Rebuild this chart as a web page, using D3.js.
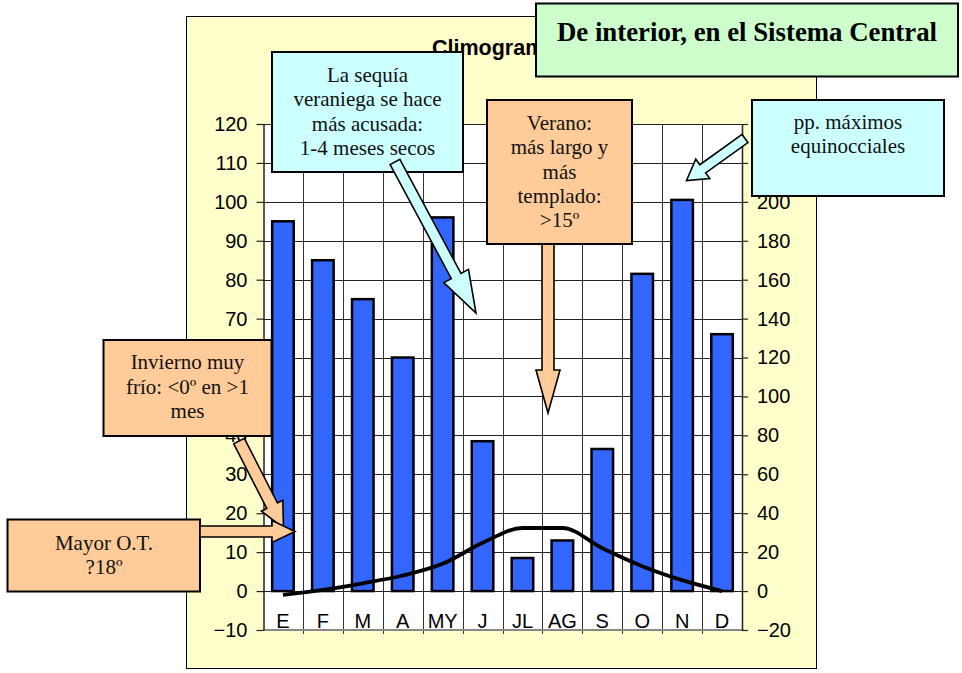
<!DOCTYPE html>
<html>
<head>
<meta charset="utf-8">
<script src="https://cdn.jsdelivr.net/npm/d3@7"></script>
<style>
  body { margin: 0; background: #fff; }
  text { font-family: Arial, "Liberation Sans", sans-serif; }
  .note { font-family: "Times New Roman", "Liberation Serif", serif; font-size: 21px; fill: #111; }
</style>
</head>
<body>
<div id="chart"></div>
<script>
// climograma data
var months = ["E", "F", "M", "A", "MY", "J", "JL", "AG", "S", "O", "N", "D"];
var precip = [190, 170, 150, 120, 192, 77, 17, 26, 73, 163, 201, 132];   // mm, right axis
var temp = [-1, 0.3, 2, 4, 7, 12.4, 16.2, 16.2, 11, 6.4, 2.8, 0];        // ºC, left axis
var tempTicks = d3.range(-10, 121, 10);
var precipTicks = d3.range(-20, 241, 20);

var svg = d3.select("#chart").append("svg")
    .attr("width", 962)
    .attr("height", 673);

// yellow chart area
svg.append("rect")
    .attr("x", 186.5).attr("y", 16.5)
    .attr("width", 630).attr("height", 652)
    .attr("fill", "#FFFFCC")
    .attr("stroke", "#000").attr("stroke-width", 1);

svg.append("text")
    .attr("x", 432).attr("y", 55)
    .style("font-size", "21.5px").style("font-weight", "bold")
    .text("Climograma");

var x = d3.scaleBand().domain(months).range([263, 742]);
var yT = d3.scaleLinear().domain([-10, 120]).range([630, 124]);
var yP = d3.scaleLinear().domain([-20, 240]).range([630, 124]);
var bw = x.bandwidth();

// plot area
svg.append("rect")
    .attr("x", 263).attr("y", 124)
    .attr("width", 479).attr("height", 506)
    .attr("fill", "#fff");

svg.append("g").selectAll("line")
    .data(tempTicks.filter(d => d > -10))
    .enter().append("line")
    .attr("x1", 263).attr("x2", 742)
    .attr("y1", d => Math.round(yT(d)) + 0.5).attr("y2", d => Math.round(yT(d)) + 0.5)
    .attr("stroke", "#222").attr("stroke-width", 1);

svg.append("g").selectAll("line")
    .data(months.slice(1))
    .enter().append("line")
    .attr("x1", d => Math.round(x(d)) + 0.5).attr("x2", d => Math.round(x(d)) + 0.5)
    .attr("y1", 124).attr("y2", 634)
    .attr("stroke", "#333").attr("stroke-width", 1);

// bottom border of plot
svg.append("line")
    .attr("x1", 263).attr("x2", 742)
    .attr("y1", 630).attr("y2", 630)
    .attr("stroke", "#888").attr("stroke-width", 2);

// axes
var leftAxis = d3.axisLeft(yT).tickValues(tempTicks).tickSizeInner(7).tickSizeOuter(0).tickPadding(9);
var gl = svg.append("g").attr("transform", "translate(263.5,0)").call(leftAxis);
var rightAxis = d3.axisRight(yP).tickValues(precipTicks).tickSizeInner(6).tickSizeOuter(0).tickPadding(9);
var gr = svg.append("g").attr("transform", "translate(742,0)").call(rightAxis);
[gl, gr].forEach(function(g) {
    g.select(".domain").attr("stroke", "#222").attr("stroke-width", 1.5);
    g.selectAll(".tick line").attr("stroke", "#222").attr("stroke-width", 1.2);
    g.selectAll(".tick text").attr("fill", "#000").style("font-size", "20px").style("font-family", "Arial, 'Liberation Sans', sans-serif");
});

// month labels
svg.append("g").selectAll("text")
    .data(months)
    .enter().append("text")
    .attr("x", d => x(d) + bw / 2)
    .attr("y", 628)
    .attr("text-anchor", "middle")
    .style("font-size", "20px")
    .text(d => d);

// precipitation bars
var barW = bw * 0.54;
svg.append("g").selectAll("rect")
    .data(precip)
    .enter().append("rect")
    .attr("x", (d, i) => x(months[i]) + bw / 2 - barW / 2)
    .attr("y", d => yP(d))
    .attr("width", barW)
    .attr("height", d => yP(0) - yP(d))
    .attr("fill", "#3366FF")
    .attr("stroke", "#000").attr("stroke-width", 2.5);

// temperature line
var tline = d3.line()
    .x((d, i) => x(months[i]) + bw / 2)
    .y(d => yT(d))
    .curve(d3.curveMonotoneX);
svg.append("path")
    .datum(temp)
    .attr("d", tline)
    .attr("fill", "none")
    .attr("stroke", "#000").attr("stroke-width", 3.8)
    .attr("stroke-linejoin", "round");

// callouts
function arrowPts(x1, y1, x2, y2, sw, hw, hl) {
    var dx = x2 - x1, dy = y2 - y1, L = Math.hypot(dx, dy);
    var ux = dx / L, uy = dy / L, px = -uy, py = ux;
    var bx = x2 - ux * hl, by = y2 - uy * hl;
    return [[x1 + px * sw / 2, y1 + py * sw / 2], [bx + px * sw / 2, by + py * sw / 2],
            [bx + px * hw / 2, by + py * hw / 2], [x2, y2],
            [bx - px * hw / 2, by - py * hw / 2], [bx - px * sw / 2, by - py * sw / 2],
            [x1 - px * sw / 2, y1 - py * sw / 2]];
}
function arrow(a, fill) {
    svg.append("polygon")
        .attr("points", arrowPts.apply(null, a).map(p => p.join(",")).join(" "))
        .attr("fill", fill)
        .attr("stroke", "#000").attr("stroke-width", 1.6)
        .attr("stroke-linejoin", "miter");
}
function box(x0, y0, x1, y1, fill, lines, cx, baselines) {
    svg.append("rect")
        .attr("x", x0).attr("y", y0)
        .attr("width", x1 - x0).attr("height", y1 - y0)
        .attr("fill", fill)
        .attr("stroke", "#000").attr("stroke-width", 2);
    svg.append("g").selectAll("text")
        .data(lines)
        .enter().append("text")
        .attr("class", "note")
        .attr("x", cx)
        .attr("y", (d, i) => baselines[i])
        .attr("text-anchor", "middle")
        .text(d => d);
}

var cyan = "#CCFFFF", orange = "#FFCC99";

box(272, 52, 463, 172, cyan, ["La sequía", "veraniega se hace", "más acusada:", "1-4 meses secos"],
    367.5, [81.5, 106, 130.5, 155]);
arrow([395, 162, 476, 313, 11, 28, 42], cyan);

arrow([548, 243, 548, 413, 12, 24, 43], orange);
box(487, 100, 632, 244, orange, ["Verano:", "más largo y", "más", "templado:", ">15º"],
    559.5, [130, 154.3, 178.6, 202.9, 227.2]);

box(752, 100, 944, 196, cyan, ["pp. máximos", "equinocciales"], 848, [129.3, 153.3]);
arrow([745, 138.5, 686.5, 180.5, 10, 24, 20], cyan);

box(103.5, 340, 271.5, 436, orange, ["Invierno muy", "frío: <0º en >1", "mes"], 187.5, [369.3, 394, 418.3]);
arrow([239, 441, 283.5, 528, 12, 24, 25], orange);

box(7.5, 519.5, 200, 591.5, orange, ["Mayor O.T.", "?18º"], 104, [549.5, 573.5]);
arrow([200, 531.5, 295, 531.5, 11, 22, 23], orange);

// heading box
svg.append("rect")
    .attr("x", 536).attr("y", 3.5)
    .attr("width", 422).attr("height", 73)
    .attr("fill", "#CCFFCC")
    .attr("stroke", "#000").attr("stroke-width", 2);
svg.append("text")
    .attr("x", 747).attr("y", 41)
    .attr("text-anchor", "middle")
    .style("font-family", "'Times New Roman', 'Liberation Serif', serif")
    .style("font-size", "26.8px").style("font-weight", "bold")
    .text("De interior, en el Sistema Central");
</script>
</body>
</html>
